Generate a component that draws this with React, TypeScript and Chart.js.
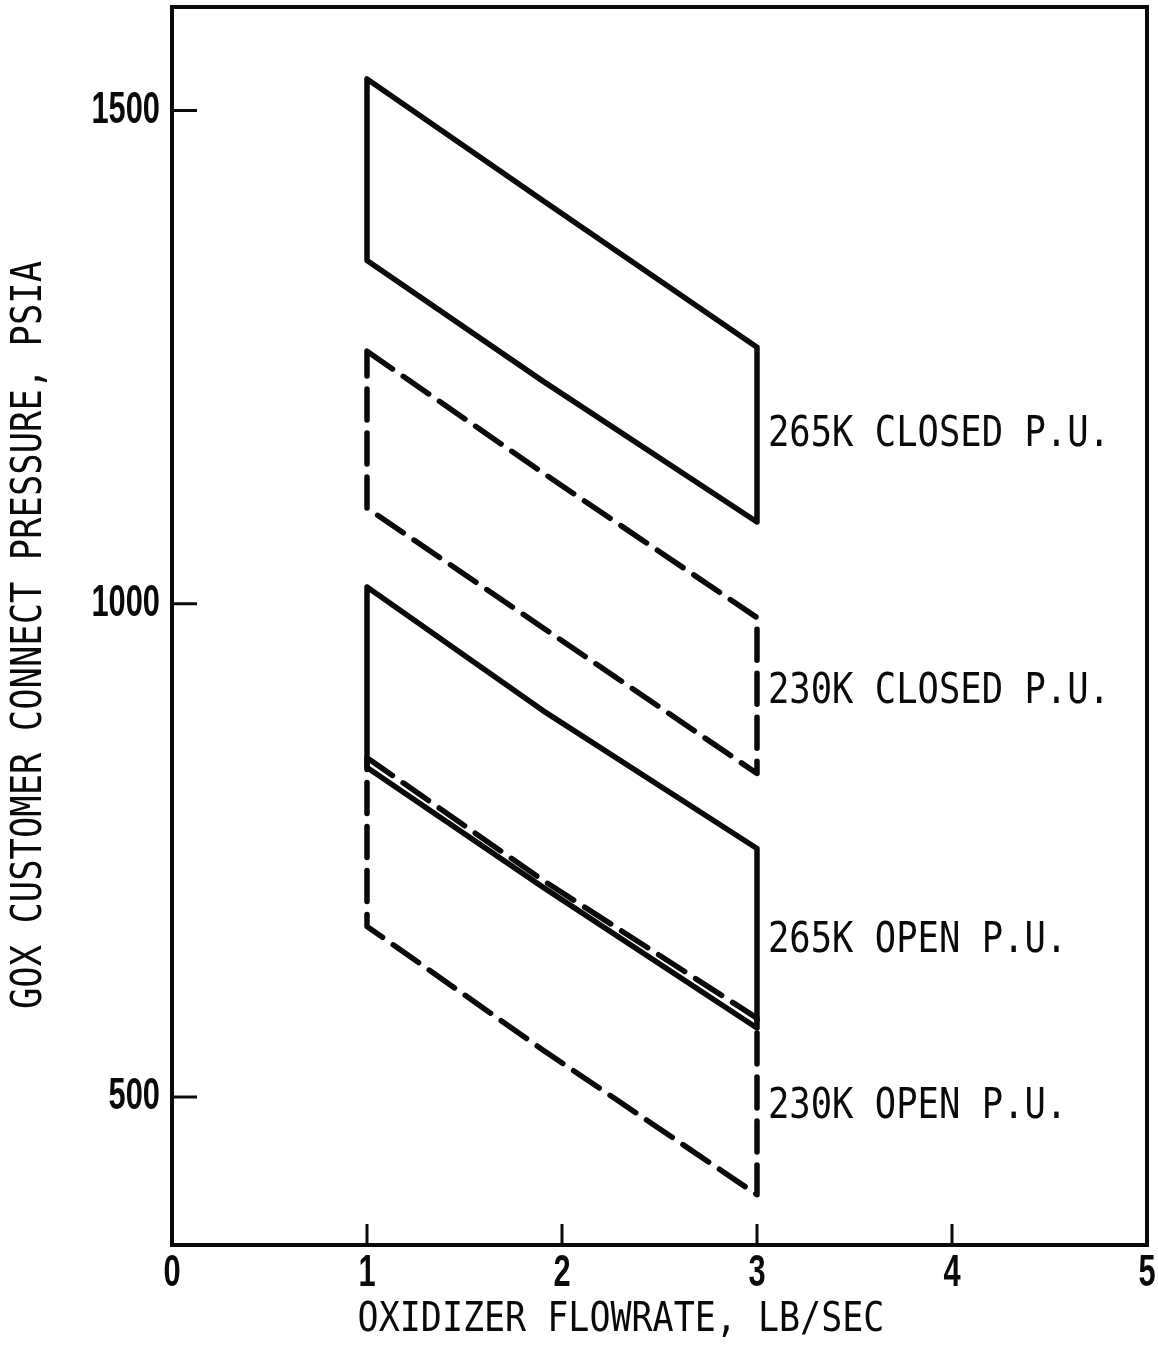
import { useEffect, useRef } from "react";
import { Chart, registerables } from "chart.js";

Chart.register(...registerables);

// Oxidizer flowrate break points (lb/sec) shared by every envelope edge
const flowrate = [1, 1.9, 3];

// Upper / lower edges of each operating envelope (psia)
const closed265Upper = [1532, 1409, 1260];
const closed265Lower = [1348, 1226, 1083];
const closed230Upper = [1256, 1133, 986];
const closed230Lower = [1097, 976, 828];
const open265Upper = [1017, 892, 752];
const open265Lower = [834, 713, 570];
const open230Upper = [844, 720, 580];
const open230Lower = [673, 548, 401];

const xTickValues = [0, 1, 2, 3, 4, 5];
const yTickValues = [500, 1000, 1500];

const envelopeNames = ["265K CLOSED P.U.", "230K CLOSED P.U.", "265K OPEN P.U.", "230K OPEN P.U."];
const envelopeLabelPressure = [1171, 910, 658, 490];

const xTitle = "OXIDIZER FLOWRATE, LB/SEC";
const yTitle = "GOX CUSTOMER CONNECT PRESSURE, PSIA";

const INK = "#0a0a0a";
const MONO = '"DejaVu Sans Mono", "Liberation Mono", monospace';
const TICK_FONT = 'bold 44px "Liberation Sans", "DejaVu Sans", sans-serif';

// closed outline: upper edge left->right, then lower edge right->left, back to start
function envelope(upper: number[], lower: number[]) {
  const pts = flowrate.map((x, i) => ({ x, y: upper[i] }));
  for (let i = flowrate.length - 1; i >= 0; i--) pts.push({ x: flowrate[i], y: lower[i] });
  pts.push({ x: flowrate[0], y: upper[0] });
  return pts;
}

// lettering-guide style text: tall, narrow glyphs
function letter(
  ctx: CanvasRenderingContext2D,
  text: string,
  x: number,
  y: number,
  font: string,
  sx: number,
  sy: number,
  align: CanvasTextAlign,
  rotate = 0
) {
  ctx.save();
  ctx.translate(x, y);
  if (rotate) ctx.rotate(rotate);
  ctx.scale(sx, sy);
  ctx.font = font;
  ctx.fillStyle = INK;
  ctx.textAlign = align;
  ctx.textBaseline = "middle";
  ctx.fillText(text, 0, 0);
  ctx.restore();
}

const framePlugin = {
  id: "frameAndLabels",
  afterDraw(chart: any) {
    const { ctx, chartArea: a, scales } = chart;
    const xs = scales.x;
    const ys = scales.y;
    ctx.save();
    ctx.strokeStyle = INK;
    ctx.lineWidth = 4;
    ctx.strokeRect(a.left, a.top, a.right - a.left, a.bottom - a.top);

    // inward tick marks
    ctx.lineWidth = 3;
    ctx.beginPath();
    for (const t of ys.ticks) {
      const py = ys.getPixelForValue(t.value);
      ctx.moveTo(a.left, py);
      ctx.lineTo(a.left + 25, py);
    }
    for (const t of xs.ticks) {
      const px = xs.getPixelForValue(t.value);
      if (px <= a.left + 2 || px >= a.right - 2) continue;
      ctx.moveTo(px, a.bottom);
      ctx.lineTo(px, a.bottom - 21);
    }
    ctx.stroke();
    ctx.restore();

    // tick labels, placed by the scales
    for (const t of ys.ticks) {
      letter(ctx, String(t.value), a.left - 12, ys.getPixelForValue(t.value), TICK_FONT, 0.7, 1, "right");
    }
    for (const t of xs.ticks) {
      letter(ctx, String(t.value), xs.getPixelForValue(t.value), a.bottom + 29, TICK_FONT, 0.7, 1, "center");
    }

    // envelope names beside the x = 3 edge
    const lx = xs.getPixelForValue(3) + 11;
    envelopeNames.forEach((name, i) => {
      letter(ctx, name, lx, ys.getPixelForValue(envelopeLabelPressure[i]), `35.5px ${MONO}`, 1, 1.18, "left");
    });

    // axis titles
    letter(ctx, xTitle, 621, 1320, `35px ${MONO}`, 1, 1.18, "center");
    letter(ctx, yTitle, 30, 635, `35.5px ${MONO}`, 1, 1.18, "center", -Math.PI / 2);
  },
};

export default function App() {
  const canvasRef = useRef<HTMLCanvasElement | null>(null);

  useEffect(() => {
    const canvas = canvasRef.current;
    if (!canvas) return;

    const solid = (data: any) => ({
      data,
      borderColor: INK,
      borderWidth: 5.5,
      borderCapStyle: "round",
      borderJoinStyle: "round",
      pointRadius: 0,
      tension: 0,
      fill: false,
    });
    const dashed = (data: any) => ({ ...solid(data), borderDash: [31, 13] });

    const chart = new Chart(canvas, {
      type: "line",
      data: {
        datasets: [
          { label: envelopeNames[0], ...solid(envelope(closed265Upper, closed265Lower)) },
          { label: envelopeNames[1], ...dashed(envelope(closed230Upper, closed230Lower)) },
          { label: envelopeNames[3], ...dashed(envelope(open230Upper, open230Lower)) },
          { label: envelopeNames[2], ...solid(envelope(open265Upper, open265Lower)) },
        ] as any,
      },
      options: {
        animation: false,
        responsive: false,
        devicePixelRatio: 1,
        layout: { padding: { left: 0, top: 7, right: 11, bottom: 0 } },
        plugins: { legend: { display: false }, tooltip: { enabled: false }, title: { display: false } },
        scales: {
          x: {
            type: "linear",
            min: 0,
            max: 5,
            afterBuildTicks: (s: any) => {
              s.ticks = xTickValues.map((value) => ({ value }));
            },
            afterFit: (s: any) => {
              s.height = 103;
              s.paddingLeft = 0;
              s.paddingRight = 0;
            },
            grid: { display: false, drawTicks: false },
            border: { display: false },
            ticks: { display: false },
          },
          y: {
            type: "linear",
            min: 350,
            max: 1605,
            afterBuildTicks: (s: any) => {
              s.ticks = yTickValues.map((value) => ({ value }));
            },
            afterFit: (s: any) => {
              s.width = 172;
              s.paddingTop = 0;
              s.paddingBottom = 0;
            },
            grid: { display: false, drawTicks: false },
            border: { display: false },
            ticks: { display: false },
          },
        },
      } as any,
      plugins: [framePlugin],
    });

    return () => chart.destroy();
  }, []);

  return (
    <div style={{ position: "fixed", left: 0, top: 0, width: 1158, height: 1348, background: "#fff" }}>
      <canvas ref={canvasRef} width={1158} height={1348} style={{ display: "block" }} />
    </div>
  );
}
